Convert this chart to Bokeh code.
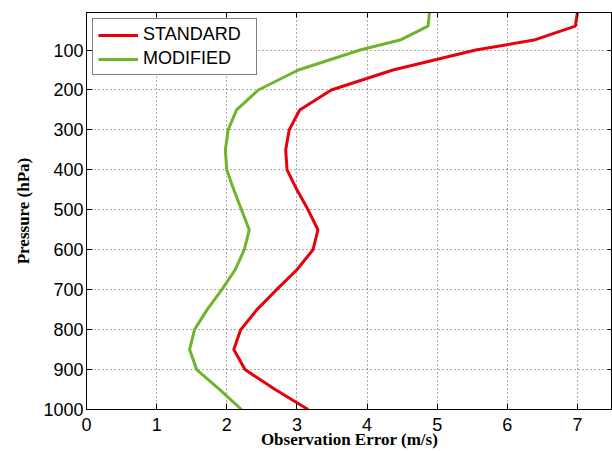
from bokeh.plotting import figure
from bokeh.models import (Range1d, FixedTicker, LinearAxis, Legend, LegendItem,
                          CustomLabelingPolicy)
from bokeh.embed import file_html
from bokeh.resources import INLINE

pressure = [6, 40, 75, 100, 150, 200, 250, 300, 350, 400, 450, 500, 550, 600,
            650, 700, 750, 800, 850, 900, 950, 1000]
standard = [7.0, 6.97, 6.38, 5.55, 4.37, 3.49, 3.04, 2.89, 2.84, 2.86, 3.0, 3.16, 3.30, 3.23,
            3.0, 2.71, 2.43, 2.20, 2.10, 2.26, 2.69, 3.16]
modified = [4.89, 4.87, 4.47, 3.90, 3.02, 2.45, 2.14, 2.02, 1.98, 2.0, 2.10, 2.21, 2.32, 2.25,
            2.12, 1.93, 1.72, 1.54, 1.47, 1.57, 1.90, 2.21]
x_ticks = [0, 1, 2, 3, 4, 5, 6, 7]
y_ticks = [100, 200, 300, 400, 500, 600, 700, 800, 900, 1000]
series_names = ["STANDARD", "MODIFIED"]

RED = "#e8000b"
GREEN = "#6fb52c"
SANS = "Liberation Sans"
SERIF = "Liberation Serif"

p = figure(width=612, height=451, output_backend="svg", toolbar_location=None,
           x_range=Range1d(0, 7.5), y_range=Range1d(1000, 6),
           min_border_left=86, min_border_right=0, min_border_top=12, min_border_bottom=42)
p.background_fill_color = "white"
p.border_fill_color = "white"
p.outline_line_color = "black"
p.outline_line_width = 1

for ax, ticks in ((p.xaxis[0], x_ticks), (p.yaxis[0], y_ticks)):
    ax.ticker = FixedTicker(ticks=ticks)
    ax.major_tick_in = 6
    ax.major_tick_out = 0
    ax.minor_tick_line_color = None
    ax.axis_line_color = "black"
    ax.major_tick_line_color = "black"
    ax.major_label_text_font = SANS
    ax.major_label_text_font_size = "18px"
    ax.major_label_text_color = "black"
    ax.axis_label_text_font = SERIF
    ax.axis_label_text_font_style = "bold"
    ax.axis_label_text_font_size = "17px"
    ax.axis_label_text_color = "black"

p.xaxis.axis_label = "Observation Error (m/s)"
p.yaxis.axis_label = "Pressure (hPa)"
p.xaxis.major_label_standoff = 8
p.xaxis.axis_label_standoff = -4
p.yaxis.major_label_standoff = 3
p.yaxis.axis_label_standoff = 7

hide_all = CustomLabelingPolicy(code="""
    for (const i of indices) { indices.unset(i) }
    return indices
""")
top = LinearAxis(ticker=FixedTicker(ticks=x_ticks), major_tick_in=5, major_tick_out=0,
                 minor_tick_line_color=None, major_label_policy=hide_all,
                 major_label_text_font_size="0px", major_label_standoff=0)
right = LinearAxis(ticker=FixedTicker(ticks=y_ticks), major_tick_in=5, major_tick_out=0,
                   minor_tick_line_color=None, major_label_policy=hide_all,
                   major_label_text_font_size="0px", major_label_standoff=0)
p.add_layout(top, "above")
p.add_layout(right, "right")

for g in (p.xgrid[0], p.ygrid[0]):
    g.grid_line_color = "black"
    g.grid_line_alpha = 0.65
    g.grid_line_dash = "1 3"
    g.grid_line_width = 1
p.xgrid.ticker = FixedTicker(ticks=x_ticks)
p.ygrid.ticker = FixedTicker(ticks=y_ticks)

r1 = p.line(standard, pressure, line_color=RED, line_width=3)
r2 = p.line(modified, pressure, line_color=GREEN, line_width=3)

legend = Legend(items=[LegendItem(label=series_names[0], renderers=[r1]),
                       LegendItem(label=series_names[1], renderers=[r2])],
                location="top_left")
legend.border_line_color = "black"
legend.border_line_width = 1
legend.background_fill_color = "white"
legend.background_fill_alpha = 1
legend.label_text_font = SANS
legend.label_text_font_size = "18px"
legend.label_text_color = "black"
legend.glyph_width = 40
legend.glyph_height = 16
legend.label_height = 16
legend.label_width = 108
legend.spacing = 3
legend.padding = 5
legend.margin = 6
legend.label_standoff = 5
p.add_layout(legend)

open("out.html", "w").write(file_html(p, INLINE))
